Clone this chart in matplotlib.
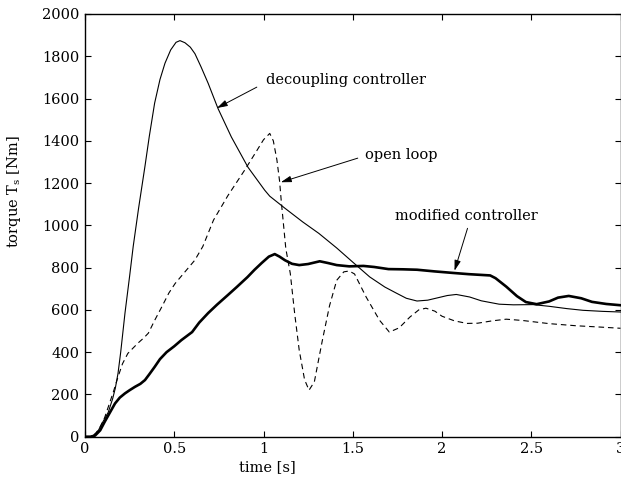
#!/usr/bin/env python3
"""Torque response: decoupling controller vs open loop vs modified controller."""
import matplotlib
matplotlib.use("Agg")
import matplotlib.pyplot as plt

# values (time in s, torque in Nm)
t_dec = [0, 0.03, 0.05, 0.075, 0.10, 0.13, 0.155, 0.17, 0.185, 0.20, 0.224, 0.25, 0.27,
         0.30, 0.336, 0.36, 0.39, 0.42, 0.448, 0.48, 0.51, 0.532, 0.56, 0.59, 0.616,
         0.65, 0.69, 0.745, 0.82, 0.913, 1.007, 1.035, 1.12, 1.22, 1.31, 1.41, 1.50,
         1.595, 1.68, 1.745, 1.80, 1.86, 1.92, 1.97, 2.03, 2.08, 2.155, 2.22, 2.32,
         2.40, 2.51, 2.60, 2.70, 2.79, 2.90, 3.0]
T_dec = [0, 0, 8, 30, 70, 115, 180, 230, 300, 400, 585, 760, 900,
         1080, 1280, 1420, 1578, 1690, 1767, 1830, 1866, 1874, 1864, 1843, 1812,
         1750, 1672, 1553, 1418, 1275, 1166, 1138, 1081, 1016, 962, 893, 826,
         756, 708, 679, 655, 642, 646, 656, 668, 673, 661, 643, 627,
         624, 625, 617, 606, 598, 593, 590]

t_open = [0, 0.03, 0.06, 0.084, 0.11, 0.13, 0.16, 0.185, 0.21, 0.24, 0.27, 0.297, 0.33,
          0.355, 0.39, 0.43, 0.47, 0.505, 0.55, 0.615, 0.66, 0.72, 0.80, 0.895, 0.96,
          1.00, 1.035, 1.055, 1.075, 1.09, 1.10, 1.125, 1.15, 1.175, 1.20, 1.23, 1.255,
          1.285, 1.31, 1.33, 1.37, 1.41, 1.45, 1.48, 1.51, 1.575, 1.65, 1.705, 1.76,
          1.82, 1.87, 1.91, 1.96, 2.0, 2.07, 2.14, 2.20, 2.28, 2.36, 2.45, 2.60,
          2.75, 2.88, 3.0]
T_open = [0, 0, 15, 45, 90, 140, 215, 283, 345, 394, 420, 443, 468,
          490, 550, 614, 680, 725, 770, 835, 900, 1025, 1140, 1262, 1350,
          1405, 1435, 1400, 1310, 1210, 1110, 890, 773, 580, 410, 270, 220,
          260, 370, 457, 620, 740, 780, 784, 770, 661, 551, 495, 515,
          566, 600, 608, 594, 570, 548, 536, 537, 548, 556, 550, 535,
          525, 519, 513]

t_mod = [0, 0.03, 0.056, 0.085, 0.11, 0.14, 0.168, 0.195, 0.224, 0.25, 0.28, 0.31, 0.336,
         0.36, 0.39, 0.42, 0.457, 0.50, 0.54, 0.57, 0.60, 0.64, 0.69, 0.74, 0.80, 0.85,
         0.91, 0.95, 0.99, 1.03, 1.063, 1.09, 1.12, 1.16, 1.20, 1.25, 1.315, 1.36, 1.41,
         1.48, 1.56, 1.62, 1.70, 1.78, 1.86, 1.96, 2.06, 2.15, 2.27, 2.30, 2.36, 2.42,
         2.47, 2.53, 2.60, 2.65, 2.71, 2.78, 2.84, 2.92, 3.0]
T_mod = [0, 0, 5, 30, 70, 115, 157, 185, 205, 220, 236, 250, 268,
         295, 330, 367, 400, 428, 457, 476, 495, 540, 585, 625, 670, 708,
         755, 790, 822, 852, 864, 852, 835, 818, 812, 817, 830, 822, 812,
         806, 808, 803, 793, 792, 790, 782, 775, 769, 763, 750, 710, 665,
         637, 627, 640, 658, 666, 655, 638, 628, 622]

x_ticks = [0, 0.5, 1, 1.5, 2, 2.5, 3]
x_labels = ["0", "0.5", "1", "1.5", "2", "2.5", "3"]
y_ticks = [0, 200, 400, 600, 800, 1000, 1200, 1400, 1600, 1800, 2000]

plt.rcParams["font.family"] = ["DejaVu Serif"]
plt.rcParams["font.size"] = 10.5
plt.rcParams["mathtext.fontset"] = "dejavuserif"

W, H = 621, 483
fig = plt.figure(figsize=(W / 100, H / 100), dpi=100)
ax = fig.add_axes([85 / W, 1 - 436.7 / H, 535.5 / W, 422.7 / H])

ax.plot(t_dec, T_dec, color="black", linewidth=0.8)
ax.plot(t_open, T_open, color="black", linewidth=0.8, linestyle=(0, (5, 3.5)))
ax.plot(t_mod, T_mod, color="black", linewidth=1.9)

ax.set_xlim(0, 3)
ax.set_ylim(0, 2000)
ax.set_xticks(x_ticks)
ax.set_xticklabels(x_labels)
ax.set_yticks(y_ticks)
ax.tick_params(direction="in", length=4, width=0.8, top=True, right=True,
               labelsize=10.5, pad=4)
for s in ax.spines.values():
    s.set_linewidth(1.0)

ax.set_xlabel("time [s]")
ax.xaxis.set_label_coords(0.341, -0.055)
ax.set_ylabel(r"torque T$_\mathrm{s}$ [Nm]")
ax.yaxis.set_label_coords(-0.116, 0.58)

arrow = dict(arrowstyle="-|>,head_length=0.6,head_width=0.18", color="black",
             linewidth=0.7, shrinkA=0, shrinkB=0)

# decoupling controller label
ax.text(1.013, 1687, "decoupling controller", ha="left", va="center")
ax.annotate("", xy=(0.739, 1555), xytext=(0.9625, 1654), arrowprops=arrow)

# open loop label
ax.text(1.567, 1332, "open loop", ha="left", va="center")
ax.annotate("", xy=(1.097, 1204), xytext=(1.528, 1318), arrowprops=arrow)

# modified controller label
ax.text(1.735, 1043, "modified controller", ha="left", va="center")
ax.annotate("", xy=(2.07, 785), xytext=(2.143, 986), arrowprops=arrow)

fig.savefig("out.png", dpi=100)
